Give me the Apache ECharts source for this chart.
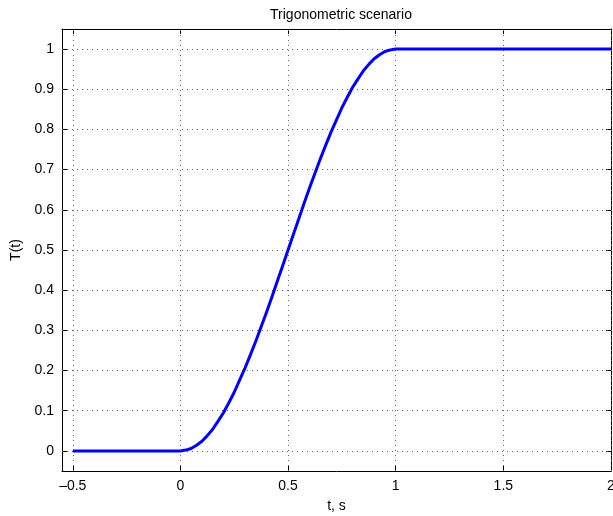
<!DOCTYPE html>
<html>
<head>
<meta charset="utf-8">
<script src="https://cdn.jsdelivr.net/npm/echarts@6/dist/echarts.min.js"></script>
<style>html,body{margin:0;padding:0;background:#fff;}#c{width:613px;height:516px;}</style>
</head>
<body>
<div id="c"></div>
<script>
var tValues = [-0.5, 0, 0.025, 0.05, 0.075, 0.1, 0.125, 0.15, 0.175, 0.2, 0.225, 0.25, 0.275, 0.3, 0.325, 0.35, 0.375, 0.4, 0.425, 0.45, 0.475, 0.5,
  0.525, 0.55, 0.575, 0.6, 0.625, 0.65, 0.675, 0.7, 0.725, 0.75, 0.775, 0.8, 0.825, 0.85, 0.875, 0.9, 0.925, 0.95, 0.975, 1, 2];
var TValues = [0, 0, 0.002, 0.006, 0.014, 0.024, 0.038, 0.054, 0.074, 0.095, 0.120, 0.146, 0.176, 0.206, 0.239, 0.273, 0.309, 0.345, 0.383, 0.422, 0.461, 0.5,
  0.539, 0.578, 0.617, 0.655, 0.691, 0.727, 0.761, 0.794, 0.824, 0.854, 0.880, 0.905, 0.926, 0.946, 0.962, 0.976, 0.986, 0.994, 0.998, 1, 1];
var xTicks = [-0.5, 0, 0.5, 1, 1.5, 2];
var yTicks = [0, 0.1, 0.2, 0.3, 0.4, 0.5, 0.6, 0.7, 0.8, 0.9, 1];
var titleText = 'Trigonometric scenario';
var xName = 't, s';
var yName = 'T(t)';

var font = 'Liberation Sans, Arial, Helvetica, sans-serif';
var chart = echarts.init(document.getElementById('c'));
var pts = tValues.map(function (t, i) { return [t, TValues[i]]; });
var gridLines = xTicks.map(function (v) { return { xAxis: v }; })
  .concat(yTicks.map(function (v) { return { yAxis: v }; }));
function fmt(v) { var s = String(Math.round(v * 10) / 10); return s.replace('-', '\u2013'); }
var axisLineStyle = { color: '#000', width: 1 };
chart.setOption({
  animation: false,
  title: { text: titleText, left: 336, top: 3, textAlign: 'center',
    textStyle: { fontFamily: font, fontSize: 14, fontWeight: 'normal', color: '#000' } },
  grid: { left: 62, right: 2, top: 29, bottom: 45, containLabel: false, outerBoundsMode: 'none' },
  xAxis: [{
    type: 'value', min: -0.55, max: 2, position: 'bottom',
    name: xName, nameLocation: 'middle', nameGap: 28,
    nameTextStyle: { fontFamily: font, fontSize: 14, color: '#000' },
    axisLine: { show: true, onZero: false, lineStyle: axisLineStyle },
    axisTick: { show: true, inside: true, length: 5, customValues: xTicks, lineStyle: axisLineStyle },
    axisLabel: { customValues: xTicks, formatter: fmt, fontFamily: font, fontSize: 14, color: '#000', margin: 8 },
    splitLine: { show: false }
  }, {
    type: 'value', min: -0.55, max: 2, position: 'top',
    axisLine: { show: true, onZero: false, lineStyle: axisLineStyle },
    axisTick: { show: true, inside: true, length: 5, customValues: xTicks, lineStyle: axisLineStyle },
    axisLabel: { show: false },
    splitLine: { show: false }
  }],
  yAxis: [{
    type: 'value', min: -0.05, max: 1.05, position: 'left',
    name: yName, nameLocation: 'middle', nameGap: 37, nameRotate: 90,
    nameTextStyle: { fontFamily: font, fontSize: 14, color: '#000' },
    axisLine: { show: true, onZero: false, lineStyle: axisLineStyle },
    axisTick: { show: true, inside: true, length: 5, customValues: yTicks, lineStyle: axisLineStyle },
    axisLabel: { customValues: yTicks, formatter: fmt, fontFamily: font, fontSize: 14, color: '#000', margin: 8 },
    splitLine: { show: false }
  }, {
    type: 'value', min: -0.05, max: 1.05, position: 'right',
    axisLine: { show: true, onZero: false, lineStyle: axisLineStyle },
    axisTick: { show: true, inside: true, length: 5, customValues: yTicks, lineStyle: axisLineStyle },
    axisLabel: { show: false },
    splitLine: { show: false }
  }],
  series: [{
    type: 'line', xAxisIndex: 0, yAxisIndex: 0, data: pts, symbol: 'none',
    lineStyle: { color: '#0000ff', width: 3, join: 'round' }, z: 5,
    markLine: {
      silent: true, symbol: 'none', label: { show: false }, animation: false,
      lineStyle: { color: '#666', width: 1, type: [1, 4] },
      data: gridLines
    }
  }]
});
</script>
</body>
</html>
